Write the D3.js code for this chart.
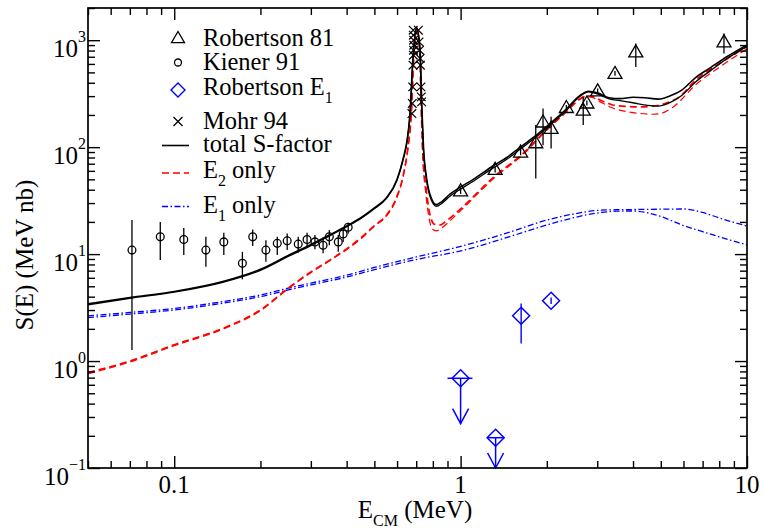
<!DOCTYPE html>
<html><head><meta charset="utf-8">
<script src="https://cdn.jsdelivr.net/npm/d3@7"></script>
</head><body style="margin:0">
<svg id="s" width="764" height="529"></svg>
<script>
// S-factor of d(alpha,gamma)6Li: E_CM in MeV, S in MeV nb
const xMajorTicks = [0.1, 1, 10];
const xTickLabels = ["0.1", "1", "10"];
const yTickExponents = [-1, 0, 1, 2, 3];

// Robertson 81: [E, S, S_low, S_high]
const robertson81 = [
  [1.00, 39.0, 36.5, 41.5], [1.32, 62, 58, 66], [1.62, 90, 84, 96],
  [1.83, 110, 51, 161], [1.94, 172, 104, 230], [2.07, 150, 97, 192],
  [2.34, 235, 222, 248], [2.68, 222, 161, 295], [2.76, 259, 245, 273],
  [3.01, 336, 318, 354], [3.46, 489, 465, 515], [4.09, 778, 563, 931],
  [8.31, 964, 751, 1155]
];

// Kiener 91: [E, S, S_low, S_high]
const kiener91 = [
  [0.0712, 10.9, 1.27, 20.8], [0.0894, 14.5, 8.8, 20.0], [0.108, 13.7, 9.8, 17.5],
  [0.129, 10.9, 7.6, 14.5], [0.149, 13.0, 9.8, 15.8], [0.173, 8.2, 5.8, 10.5],
  [0.188, 14.5, 11.9, 17.0], [0.209, 10.9, 8.5, 13.5], [0.229, 12.6, 9.8, 14.5],
  [0.248, 13.3, 10.9, 15.6], [0.271, 12.4, 10.3, 14.5], [0.291, 13.7, 11.7, 15.8],
  [0.310, 13.0, 11.1, 15.1], [0.331, 12.1, 10.2, 14.3], [0.348, 14.5, 12.1, 16.8],
  [0.374, 13.0, 10.5, 15.1], [0.389, 15.4, 13.0, 17.5], [0.405, 17.8, 15.6, 19.6]
];

// Robertson E1 measured points: [E, S, S_low, S_high]
const robertsonE1 = [
  [1.627, 2.65, 1.46, 3.46],
  [2.07, 3.66, 3.42, 3.92]
];
// Robertson E1 upper limits: [E, S_limit, arrow_tip_S, E_low, E_high]
const robertsonE1Limits = [
  [1.00, 0.69, 0.26, 0.90, 1.10],
  [1.325, 0.192, 0.10, 1.24, 1.42]
];

// Mohr 94 (resonance scan): [E, S]
const mohr94 = [
  [0.676, 206], [0.678, 256], [0.680, 366], [0.682, 584], [0.684, 724],
  [0.685, 806], [0.686, 898], [0.685, 1000], [0.684, 1114], [0.683, 1239],
  [0.712, 1239], [0.716, 964], [0.719, 806], [0.722, 675], [0.724, 584],
  [0.727, 366], [0.729, 295], [0.731, 265]
];

// model curves, two variants each: [E, S]
const totalA = [
  [0.05, 3.42], [0.07, 3.92], [0.1, 4.47], [0.15, 5.6], [0.2, 7.2], [0.25, 9.7],
  [0.3, 12.3], [0.35, 15.2], [0.4, 18.3], [0.45, 22], [0.5, 27], [0.55, 33.5],
  [0.6, 50], [0.63, 78], [0.65, 115], [0.665, 200], [0.682, 700], [0.702, 1300],
  [0.722, 800], [0.733, 220], [0.742, 100], [0.76, 52], [0.79, 33.5], [0.823, 29],
  [0.86, 31], [0.92, 36.5], [1.0, 42.5], [1.1, 49.5], [1.3, 67], [1.45, 80],
  [1.6, 98], [1.88, 136], [2.1, 175], [2.33, 225], [2.6, 302], [2.8, 333],
  [3.0, 322], [3.3, 290], [3.6, 284], [4.0, 293], [4.4, 290], [4.9, 281],
  [5.4, 302], [5.9, 340], [6.6, 445], [7.5, 560], [8.5, 700], [10, 905]
];
const totalB = [
  [0.05, 3.36], [0.07, 3.86], [0.1, 4.4], [0.15, 5.5], [0.2, 7.05], [0.25, 9.5],
  [0.3, 12.0], [0.35, 14.9], [0.4, 18.0], [0.45, 21.6], [0.5, 26.5], [0.55, 33],
  [0.6, 49], [0.63, 76], [0.65, 112], [0.666, 200], [0.683, 700], [0.702, 1300],
  [0.721, 800], [0.732, 220], [0.741, 100], [0.76, 50], [0.79, 32], [0.823, 28],
  [0.86, 29.8], [0.92, 35], [1.0, 40.5], [1.1, 47.5], [1.3, 64], [1.45, 77],
  [1.6, 94], [1.88, 131], [2.1, 170], [2.33, 218], [2.6, 296], [2.8, 328],
  [3.0, 315], [3.3, 283], [3.6, 272], [4.0, 260], [4.5, 246], [4.9, 242],
  [5.4, 262], [5.9, 302], [6.6, 405], [7.5, 525], [8.5, 670], [10, 880]
];
const e2A = [
  [0.05, 0.78], [0.07, 1.0], [0.1, 1.42], [0.15, 2.05], [0.2, 3.0], [0.25, 4.8],
  [0.3, 6.8], [0.35, 8.8], [0.4, 11.2], [0.45, 14.3], [0.5, 18.5], [0.55, 23],
  [0.6, 35], [0.63, 54], [0.655, 100], [0.672, 200], [0.686, 700], [0.703, 1300],
  [0.72, 800], [0.73, 200], [0.738, 90], [0.758, 41], [0.78, 24], [0.81, 19],
  [0.845, 18.7], [0.9, 20.8], [1.0, 26.5], [1.3, 52], [1.65, 87], [2.04, 155],
  [2.33, 214], [2.6, 282], [2.75, 302], [2.9, 296], [3.1, 272], [3.4, 248],
  [3.8, 240], [4.2, 238], [4.7, 242], [5.2, 257], [5.8, 295], [6.6, 420],
  [8.2, 627], [10, 870]
];
const e2B = [
  [0.05, 0.76], [0.07, 0.98], [0.1, 1.39], [0.15, 2.02], [0.2, 2.95], [0.25, 4.75],
  [0.3, 6.7], [0.35, 8.7], [0.4, 11.0], [0.45, 14.0], [0.5, 18.2], [0.55, 22.6],
  [0.6, 34], [0.63, 53], [0.655, 98], [0.673, 200], [0.687, 700], [0.703, 1300],
  [0.719, 800], [0.73, 190], [0.737, 85], [0.755, 38], [0.775, 22], [0.8, 17],
  [0.825, 16.5], [0.86, 17.6], [0.9, 19.5], [1.0, 25.5], [1.3, 50.5], [1.65, 85],
  [2.04, 152], [2.33, 210], [2.6, 278], [2.75, 298], [2.9, 290], [3.1, 262],
  [3.4, 232], [3.8, 215], [4.2, 207], [4.7, 203], [5.2, 215], [5.5, 235],
  [6.6, 380], [8.2, 584], [10, 830]
];
const e1A = [
  [0.05, 2.65], [0.07, 2.85], [0.1, 3.1], [0.15, 3.62], [0.2, 4.15], [0.25, 4.8],
  [0.3, 5.35], [0.4, 6.35], [0.5, 7.5], [0.7, 9.4], [1.0, 11.8], [1.5, 16.2],
  [2.0, 20.8], [2.5, 23.8], [3.0, 25.6], [3.5, 26], [4.0, 26.1], [5.0, 26.3],
  [6.0, 26.4], [7.0, 24.5], [8.0, 21.8], [9.0, 19.8], [10, 18.3]
];
const e1B = [
  [0.05, 2.55], [0.07, 2.75], [0.1, 3.0], [0.15, 3.5], [0.2, 4.0], [0.25, 4.62],
  [0.3, 5.15], [0.4, 6.1], [0.5, 7.15], [0.7, 8.9], [1.0, 10.7], [1.5, 14.7],
  [2.0, 18.7], [2.5, 22], [3.0, 24.2], [3.5, 25.2], [4.0, 25.3], [4.5, 24.3],
  [5.0, 22.5], [6.0, 18.5], [7.0, 16.2], [8.0, 14.5], [9.0, 13.2], [10, 12.2]
];

// legend entries: main text, optional subscript, trailing text
const legendItems = [
  { key: "tri",   text: "Robertson 81" },
  { key: "circ",  text: "Kiener 91" },
  { key: "diam",  text: "Robertson E", sub: "1" },
  { key: "cross", text: "Mohr 94" },
  { key: "total", text: "total S-factor" },
  { key: "e2",    text: "E", sub: "2", after: " only" },
  { key: "e1",    text: "E", sub: "1", after: " only" }
];

const plotLeft = 88, plotRight = 747, plotTop = 8, plotBottom = 468;
const BLUE = "#0000ff", RED = "#ff0000";
const s = d3.select("#s");

const x = d3.scaleLog().domain([0.05, 10]).range([plotLeft, plotRight]);
const y = d3.scaleLog().domain([0.1, 2000]).range([plotBottom, plotTop]);

// minor tick positions
const xMinor = [];
[0.01, 0.1, 1].forEach(d => { for (let k = 2; k <= 9; k++) { const v = d * k; if (v >= 0.0499 && v <= 10) xMinor.push(v); } });
const yMinor = [];
[0.1, 1, 10, 100, 1000].forEach(d => { for (let k = 2; k <= 9; k++) { const v = d * k; if (v <= 2000) yMinor.push(v); } });
const yMajor = yTickExponents.map(e => Math.pow(10, e));

// clip region for the model curves
s.append("defs").append("clipPath").attr("id", "plotclip")
  .append("rect").attr("x", plotLeft).attr("y", plotTop)
  .attr("width", plotRight - plotLeft).attr("height", plotBottom - plotTop);
const plot = s.append("g").attr("clip-path", "url(#plotclip)");

// model curves
const line = d3.line().x(d => x(d[0])).y(d => y(d[1])).curve(d3.curveMonotoneX);
const curves = [
  { data: e1A, color: BLUE, width: 1.3, dash: "6,2.5,1.5,2.5" },
  { data: e1B, color: BLUE, width: 1.3, dash: "6,2.5,1.5,2.5" },
  { data: e2A, color: RED, width: 1.7, dash: "7,4" },
  { data: e2B, color: RED, width: 1.2, dash: "7,4" },
  { data: totalA, color: "#000", width: 1.6, dash: null },
  { data: totalB, color: "#000", width: 1.3, dash: null }
];
curves.forEach(c => {
  plot.append("path").datum(c.data).attr("d", line)
    .attr("fill", "none").attr("stroke", c.color)
    .attr("stroke-width", c.width).attr("stroke-dasharray", c.dash);
});

// symbol shapes
const triPath = (cx, cy, r) => `M${cx},${cy - r}L${cx + r},${cy + r * 0.72}L${cx - r},${cy + r * 0.72}Z`;
const diamPath = (cx, cy, r) => `M${cx},${cy - r}L${cx + r},${cy}L${cx},${cy + r}L${cx - r},${cy}Z`;
const crossPath = (cx, cy, r) => `M${cx - r},${cy - r}L${cx + r},${cy + r}M${cx - r},${cy + r}L${cx + r},${cy - r}`;

const pts = s.append("g");

kiener91.forEach(d => {
  pts.append("line").attr("x1", x(d[0])).attr("x2", x(d[0]))
    .attr("y1", y(d[2])).attr("y2", y(d[3])).attr("stroke", "#000").attr("stroke-width", 1.3);
  pts.append("circle").attr("cx", x(d[0])).attr("cy", y(d[1])).attr("r", 3.9)
    .attr("fill", "none").attr("stroke", "#000").attr("stroke-width", 1.3);
});

robertson81.forEach(d => {
  pts.append("line").attr("x1", x(d[0])).attr("x2", x(d[0]))
    .attr("y1", y(d[2])).attr("y2", y(d[3])).attr("stroke", "#000").attr("stroke-width", 1.3);
  pts.append("path").attr("d", triPath(x(d[0]), y(d[1]), 7))
    .attr("fill", "none").attr("stroke", "#000").attr("stroke-width", 1.3);
});

mohr94.forEach(d => {
  pts.append("path").attr("d", crossPath(x(d[0]), y(d[1]), 4.3))
    .attr("fill", "none").attr("stroke", "#000").attr("stroke-width", 1.2);
});

robertsonE1.forEach(d => {
  pts.append("line").attr("x1", x(d[0])).attr("x2", x(d[0]))
    .attr("y1", y(d[2])).attr("y2", y(d[3])).attr("stroke", BLUE).attr("stroke-width", 1.4);
  pts.append("path").attr("d", diamPath(x(d[0]), y(d[1]), 8.5))
    .attr("fill", "none").attr("stroke", BLUE).attr("stroke-width", 1.5);
});
robertsonE1Limits.forEach(d => {
  const cx = x(d[0]), cy = y(d[1]), ty = y(d[2]);
  pts.append("line").attr("x1", x(d[3])).attr("x2", x(d[4])).attr("y1", cy).attr("y2", cy)
    .attr("stroke", BLUE).attr("stroke-width", 1.5);
  pts.append("line").attr("x1", cx).attr("x2", cx).attr("y1", cy).attr("y2", ty)
    .attr("stroke", BLUE).attr("stroke-width", 1.5);
  pts.append("path").attr("d", `M${cx - 8},${ty - 15}L${cx},${ty}L${cx + 8},${ty - 15}`)
    .attr("fill", "none").attr("stroke", BLUE).attr("stroke-width", 1.5);
  pts.append("path").attr("d", diamPath(cx, cy, 8.5))
    .attr("fill", "none").attr("stroke", BLUE).attr("stroke-width", 1.5);
});

// inward ticks on all four sides
function tickAxis(axisFn, scale, values, size, transform) {
  s.append("g").attr("transform", transform)
    .call(axisFn(scale).tickValues(values).tickSize(size).tickFormat(""))
    .call(g => g.select(".domain").remove())
    .selectAll("line").attr("stroke", "#000").attr("stroke-width", 1.4);
}
tickAxis(d3.axisBottom, x, xMajorTicks, -12, `translate(0,${plotBottom})`);
tickAxis(d3.axisBottom, x, xMinor, -7, `translate(0,${plotBottom})`);
tickAxis(d3.axisTop, x, xMajorTicks, -12, `translate(0,${plotTop})`);
tickAxis(d3.axisTop, x, xMinor, -7, `translate(0,${plotTop})`);
tickAxis(d3.axisLeft, y, yMajor, -12, `translate(${plotLeft},0)`);
tickAxis(d3.axisLeft, y, yMinor, -7, `translate(${plotLeft},0)`);
tickAxis(d3.axisRight, y, yMajor, -12, `translate(${plotRight},0)`);
tickAxis(d3.axisRight, y, yMinor, -7, `translate(${plotRight},0)`);

s.append("rect").attr("x", plotLeft).attr("y", plotTop)
  .attr("width", plotRight - plotLeft).attr("height", plotBottom - plotTop)
  .attr("fill", "none").attr("stroke", "#000").attr("stroke-width", 1.7);

// text helper: serif face like the original figure
function label(parent, px, py, size) {
  return parent.append("text").attr("x", px).attr("y", py).attr("font-size", size)
    .style("font-family", "'Liberation Serif'");
}

xMajorTicks.forEach((v, i) => {
  label(s, x(v), 493, 25).attr("text-anchor", "middle").text(xTickLabels[i]);
});

yTickExponents.forEach(e => {
  const t = label(s, plotLeft - 2, y(Math.pow(10, e)) + 16.5, 25).attr("text-anchor", "end");
  t.append("tspan").text("10");
  t.append("tspan").attr("font-size", 16).attr("dy", -14.5).text(e < 0 ? "\u2212" + (-e) : String(e));
});

const xt = label(s, 415, 518, 25).attr("text-anchor", "middle");
xt.append("tspan").text("E");
xt.append("tspan").attr("font-size", 16).attr("dy", 8).text("CM");
xt.append("tspan").attr("dy", -8).text(" (MeV)");

label(s, 0, 0, 25).attr("transform", "translate(33,255) rotate(-90)")
  .attr("text-anchor", "middle").text("S(E) (MeV nb)");

// legend
const lg = s.append("g");
let base = 46, prevSub = false;
legendItems.forEach((it, i) => {
  if (i > 0) base += 23.5 + (prevSub ? 10 : 0) + (it.sub ? 2 : 0);
  prevSub = !!it.sub;
  const sx = 178, sy = base - 7;
  if (it.key === "tri") {
    lg.append("path").attr("d", triPath(sx, sy - 1, 6.5)).attr("fill", "none").attr("stroke", "#000").attr("stroke-width", 1.3);
  } else if (it.key === "circ") {
    lg.append("circle").attr("cx", sx).attr("cy", sy).attr("r", 3.5).attr("fill", "none").attr("stroke", "#000").attr("stroke-width", 1.3);
  } else if (it.key === "diam") {
    lg.append("path").attr("d", diamPath(sx, base - 5, 7)).attr("fill", "none").attr("stroke", BLUE).attr("stroke-width", 1.4);
  } else if (it.key === "cross") {
    lg.append("path").attr("d", crossPath(sx, sy, 4.5)).attr("fill", "none").attr("stroke", "#000").attr("stroke-width", 1.3);
  } else {
    const c = it.key === "total" ? curves[4] : it.key === "e2" ? curves[2] : curves[0];
    const ly = it.key === "e2" ? base - 4.5 : base - 6.5;
    lg.append("line").attr("x1", 162).attr("x2", 189).attr("y1", ly).attr("y2", ly)
      .attr("stroke", c.color).attr("stroke-width", it.key === "total" ? 1.6 : 1.3)
      .attr("stroke-dasharray", c.dash);
  }
  const t = label(lg, 203, base, 24.5);
  t.append("tspan").text(it.text);
  if (it.sub) {
    t.append("tspan").attr("font-size", 16).attr("dy", 8).text(it.sub);
    if (it.after) t.append("tspan").attr("dy", -8).text(it.after);
  }
});
</script></body></html>
